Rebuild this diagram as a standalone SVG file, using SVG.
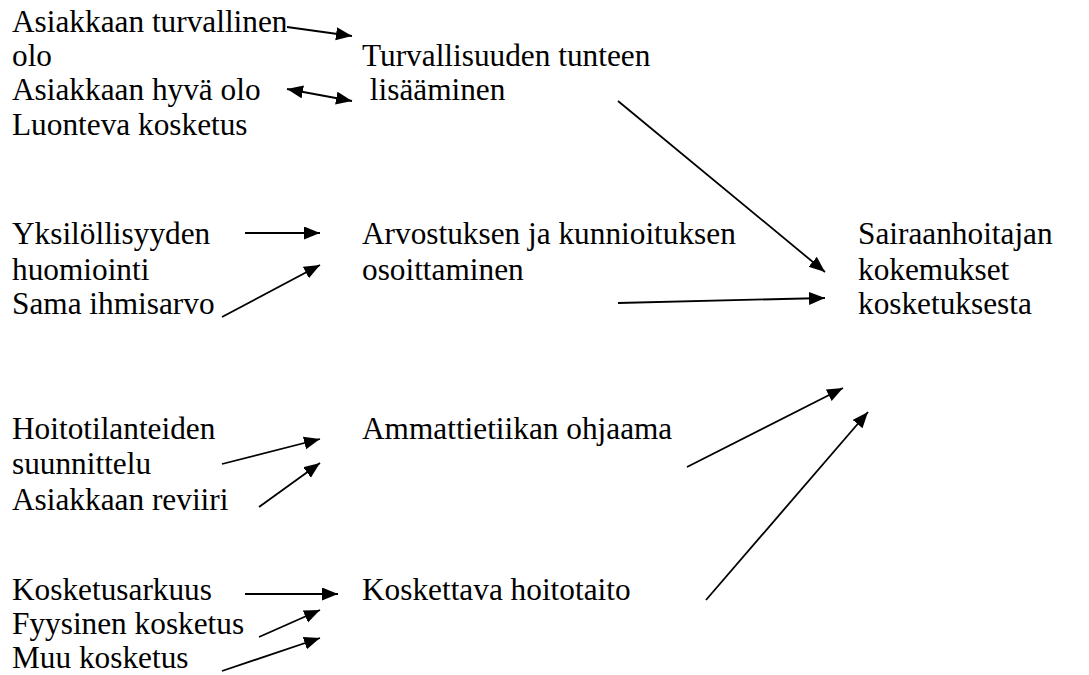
<svg xmlns="http://www.w3.org/2000/svg" width="1089" height="675" viewBox="0 0 1089 675">
<style>
text{font-family:'Liberation Serif','Times New Roman',serif;font-size:31.3px;fill:#000}
.c line{stroke:#000;stroke-width:1.8;fill:none}
</style>
<defs>
<marker id="ah" markerUnits="userSpaceOnUse" markerWidth="17" markerHeight="14" refX="16" refY="6.5" orient="auto-start-reverse">
<path d="M0,0 L16,6.5 L0,13 z" fill="#000"/>
</marker>
</defs>
<rect width="1089" height="675" fill="#fff"/>
<g id="n-turvallinen"><text x="12" y="32">Asiakkaan turvallinen</text><text x="12" y="66">olo</text></g>
<g id="n-hyva"><text x="12" y="100">Asiakkaan hyvä olo</text></g>
<g id="n-luonteva"><text x="12" y="135">Luonteva kosketus</text></g>
<g id="n-turvallisuus"><text x="362" y="66">Turvallisuuden tunteen</text><text x="362" y="100" xml:space="preserve"> lisääminen</text></g>
<g id="n-yksilollisyys"><text x="12" y="244">Yksilöllisyyden</text><text x="12" y="280">huomiointi</text></g>
<g id="n-sama"><text x="12" y="314">Sama ihmisarvo</text></g>
<g id="n-arvostus"><text x="362" y="244">Arvostuksen ja kunnioituksen</text><text x="362" y="280">osoittaminen</text></g>
<g id="n-sairaanhoitaja"><text x="858" y="244">Sairaanhoitajan</text><text x="858" y="280">kokemukset</text><text x="858" y="314">kosketuksesta</text></g>
<g id="n-hoitotilanteet"><text x="12" y="439">Hoitotilanteiden</text><text x="12" y="474">suunnittelu</text></g>
<g id="n-reviiri"><text x="12" y="510">Asiakkaan reviiri</text></g>
<g id="n-ammattietiikka"><text x="362" y="439">Ammattietiikan ohjaama</text></g>
<g id="n-kosketusarkuus"><text x="12" y="600">Kosketusarkuus</text></g>
<g id="n-fyysinen"><text x="12" y="634">Fyysinen kosketus</text></g>
<g id="n-muu"><text x="12" y="668">Muu kosketus</text></g>
<g id="n-koskettava"><text x="362" y="600">Koskettava hoitotaito</text></g>
<g id="connectors" class="c">
<line x1="287" y1="27" x2="352" y2="36" marker-end="url(#ah)"/>
<line x1="287" y1="89" x2="352" y2="101" marker-start="url(#ah)" marker-end="url(#ah)"/>
<line x1="618" y1="101" x2="825" y2="272" marker-end="url(#ah)"/>
<line x1="618" y1="303" x2="825" y2="298" marker-end="url(#ah)"/>
<line x1="245" y1="233" x2="320" y2="233" marker-end="url(#ah)"/>
<line x1="222" y1="317" x2="320" y2="265" marker-end="url(#ah)"/>
<line x1="222" y1="464" x2="320" y2="439" marker-end="url(#ah)"/>
<line x1="259" y1="507" x2="320" y2="463" marker-end="url(#ah)"/>
<line x1="687" y1="467" x2="843" y2="388" marker-end="url(#ah)"/>
<line x1="706" y1="600" x2="868" y2="412" marker-end="url(#ah)"/>
<line x1="245" y1="594" x2="338" y2="594" marker-end="url(#ah)"/>
<line x1="259" y1="637" x2="320" y2="610" marker-end="url(#ah)"/>
<line x1="222" y1="671" x2="320" y2="638" marker-end="url(#ah)"/>
</g>
</svg>
